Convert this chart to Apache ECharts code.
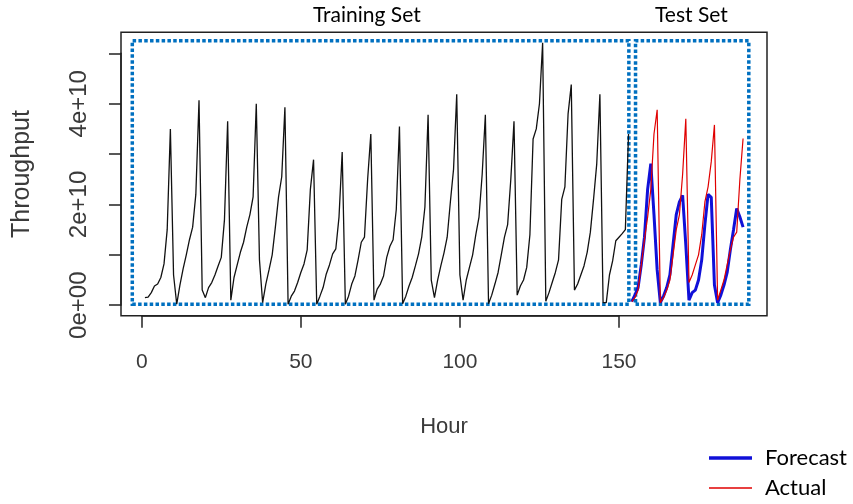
<!DOCTYPE html>
<html>
<head>
<meta charset="utf-8">
<script src="https://cdn.jsdelivr.net/npm/echarts@6/dist/echarts.min.js"></script>
<style>
  html, body { margin: 0; padding: 0; background: #fff; }
  #chart { width: 853px; height: 504px; }
</style>
</head>
<body>
<div id="chart"></div>
<script>
// values are in units of 1e10 (bytes), hour index starts at 1
const SCALE = 1e10;
const trainStart = 1;
const trainValues = [
  0.15, 0.16, 0.25, 0.38, 0.42, 0.55, 0.82, 1.5, 3.5, 0.6,
  0.02, 0.4, 0.72, 1.0, 1.3, 1.55, 2.2, 4.07, 0.3, 0.15,
  0.35, 0.45, 0.6, 0.78, 0.95, 1.7, 3.65, 0.1, 0.55, 0.8,
  1.05, 1.25, 1.55, 1.8, 2.15, 4.0, 0.9, 0.05, 0.42, 0.7,
  1.0, 1.55, 2.15, 2.55, 3.93, 0.02, 0.18, 0.28, 0.45, 0.65,
  0.82, 1.1, 2.3, 2.89, 0.02, 0.18, 0.35, 0.62, 0.8, 1.02,
  1.12, 1.75, 3.04, 0.02, 0.18, 0.42, 0.58, 0.9, 1.25, 1.35,
  2.5, 3.4, 0.1, 0.32, 0.42, 0.58, 0.95, 1.17, 1.3, 1.9,
  3.55, 0.03, 0.18, 0.38, 0.55, 0.78, 1.02, 1.35, 1.95, 3.78,
  0.5, 0.15, 0.5, 0.78, 1.04, 1.35, 2.05, 2.7, 4.19, 0.6,
  0.1, 0.5, 0.75, 1.0, 1.4, 1.75, 2.6, 3.78, 0.03, 0.2,
  0.42, 0.65, 1.0, 1.35, 1.6, 2.5, 3.65, 0.2, 0.38, 0.5,
  0.75, 1.4, 3.3, 3.5, 4.0, 5.21, 0.08, 0.25, 0.45, 0.65,
  0.9, 2.1, 2.35, 3.8, 4.38, 0.3, 0.42, 0.6, 0.78, 1.05,
  1.45, 2.1, 2.8, 4.19, 0.05, 0.05, 0.6, 0.88, 1.28, 1.35,
  1.42, 1.5, 3.4
];

const testStart = 154;
const testActual = [
  0.07, 0.15, 0.3, 0.8, 1.3, 1.75, 2.3, 3.4, 3.88, 0.05,
  0.15, 0.3, 0.5, 1.0, 1.5, 1.8, 2.6, 3.7, 0.45, 0.6,
  0.8, 1.0, 1.4, 2.05, 2.35, 2.85, 3.58, 0.1, 0.3, 0.5,
  0.8, 1.1, 1.35, 1.45, 2.5, 3.31
];
const testForecast = [
  0.07, 0.2, 0.35, 0.8, 1.35, 2.3, 2.81, 1.8, 0.7, 0.05,
  0.18, 0.35, 0.6, 1.2, 1.8, 2.05, 2.18, 1.2, 0.1, 0.25,
  0.3, 0.5, 0.9, 1.6, 2.2, 2.14, 0.4, 0.05, 0.2, 0.4,
  0.65, 1.1, 1.5, 1.92, 1.75, 1.55
];

// axis ticks as R drew them
const xTickMax = 150, xTickStep = 50;
const yTickMax = 5, yTickStep = 1;
const yLabelled = { 0: '0e+00', 2: '2e+10', 4: '4e+10' };

// dotted boxes around the two sets: [x0, x1, y0, y1]
const trainBox = [-2.97, 153.1, 0.018, 5.25];
const testBox = [155.2, 190.8, 0.018, 5.25];

const toPairs = (vals, start) => vals.map((v, i) => [start + i, v * SCALE]);

// plot region, R style (4% padding on the data range)
const box = { left: 121, top: 32.3, right: 767, bottom: 315.7 };
const xlim = [-6.52, 196.52];
const ylim = [-0.2084 * SCALE, 5.4184 * SCALE];
const kx = (box.right - box.left) / (xlim[1] - xlim[0]);
const ky = (box.bottom - box.top) / (ylim[1] - ylim[0]);
const axLeft = box.left + (0 - xlim[0]) * kx;
const axRight = box.left + (xTickMax - xlim[0]) * kx;
const axTop = box.bottom - (yTickMax * SCALE - ylim[0]) * ky;
const axBottom = box.bottom - (0 - ylim[0]) * ky;

const axisText = { color: '#3a3a3a', fontFamily: 'Liberation Sans, Arial, sans-serif' };
const noteFont = 'Lato, "Open Sans", sans-serif';

const chart = echarts.init(document.getElementById('chart'));
chart.setOption({
  animation: false,
  backgroundColor: '#fff',
  grid: [
    {
      left: box.left, top: box.top,
      width: box.right - box.left, height: box.bottom - box.top,
      containLabel: false, outerBoundsMode: 'none',
      show: true, borderColor: '#222', borderWidth: 1.5
    },
    {
      left: axLeft, top: axTop,
      width: axRight - axLeft, height: axBottom - axTop,
      containLabel: false, outerBoundsMode: 'none'
    }
  ],
  xAxis: [
    {
      gridIndex: 0, type: 'value', min: xlim[0], max: xlim[1],
      axisLine: { show: false }, axisTick: { show: false },
      axisLabel: { show: false }, splitLine: { show: false },
      name: 'Hour', nameLocation: 'middle', nameGap: 100,
      nameTextStyle: { ...axisText, fontSize: 22 }
    },
    {
      gridIndex: 1, type: 'value', min: 0, max: xTickMax, interval: xTickStep,
      offset: box.bottom - axBottom,
      axisLine: { show: true, onZero: false, lineStyle: { color: '#222', width: 1.5 } },
      axisTick: { show: true, length: 12, lineStyle: { color: '#222', width: 1.5 } },
      axisLabel: { ...axisText, fontSize: 21, margin: 36 },
      splitLine: { show: false }
    }
  ],
  yAxis: [
    {
      gridIndex: 0, type: 'value', min: ylim[0], max: ylim[1],
      axisLine: { show: false }, axisTick: { show: false },
      axisLabel: { show: false }, splitLine: { show: false },
      name: 'Throughput', nameLocation: 'middle', nameGap: 86,
      nameTextStyle: { ...axisText, fontSize: 25 }
    },
    {
      gridIndex: 1, type: 'value', min: 0, max: yTickMax * SCALE, interval: yTickStep * SCALE,
      offset: axLeft - box.left,
      axisLine: { show: true, onZero: false, lineStyle: { color: '#222', width: 1.5 } },
      axisTick: { show: true, length: 12, lineStyle: { color: '#222', width: 1.5 } },
      axisLabel: {
        ...axisText, fontSize: 24, rotate: 90, margin: 30,
        formatter: v => yLabelled[Math.round(v / SCALE)] || ''
      },
      splitLine: { show: false }
    }
  ],
  legend: [
    {
      data: ['Forecast'], icon: 'rect', left: 709, top: 447, padding: 0,
      itemWidth: 43, itemHeight: 3.5, itemGap: 0,
      textStyle: { fontFamily: noteFont, fontSize: 22, color: '#000', padding: [0, 0, 0, 8] }
    },
    {
      data: ['Actual'], icon: 'rect', left: 709, top: 477, padding: 0,
      itemWidth: 43, itemHeight: 1.5, itemGap: 0,
      textStyle: { fontFamily: noteFont, fontSize: 22, color: '#000', padding: [0, 0, 0, 8] }
    }
  ],
  graphic: [
    { type: 'text', left: 313, top: 5, style: { text: 'Training Set', font: '21px ' + noteFont, fill: '#000' } },
    { type: 'text', left: 655, top: 5, style: { text: 'Test Set', font: '21px ' + noteFont, fill: '#000' } }
  ],
  series: [
    {
      name: 'Training', type: 'line', xAxisIndex: 0, yAxisIndex: 0,
      data: toPairs(trainValues, trainStart),
      symbol: 'none', lineStyle: { color: '#111', width: 1.3 }, z: 2
    },
    {
      name: 'Forecast', type: 'line', xAxisIndex: 0, yAxisIndex: 0,
      data: toPairs(testForecast, testStart),
      symbol: 'none', itemStyle: { color: '#1010d8' },
      lineStyle: { color: '#1010d8', width: 3 }, z: 3
    },
    {
      name: 'Actual', type: 'line', xAxisIndex: 0, yAxisIndex: 0,
      data: toPairs(testActual, testStart),
      symbol: 'none', itemStyle: { color: '#e00000' },
      lineStyle: { color: '#e00000', width: 1.2 }, z: 4
    },
    {
      name: 'Sets', type: 'line', xAxisIndex: 0, yAxisIndex: 0, data: [], z: 5,
      silent: true,
      markArea: {
        silent: true,
        label: { show: false },
        itemStyle: {
          color: 'rgba(0,0,0,0)', borderColor: '#0070c0',
          borderWidth: 3.5, borderType: [3.5, 2.3]
        },
        data: [trainBox, testBox].map(b => [
          { coord: [b[0], b[2] * SCALE] },
          { coord: [b[1], b[3] * SCALE] }
        ])
      }
    }
  ]
});
</script>
</body>
</html>
